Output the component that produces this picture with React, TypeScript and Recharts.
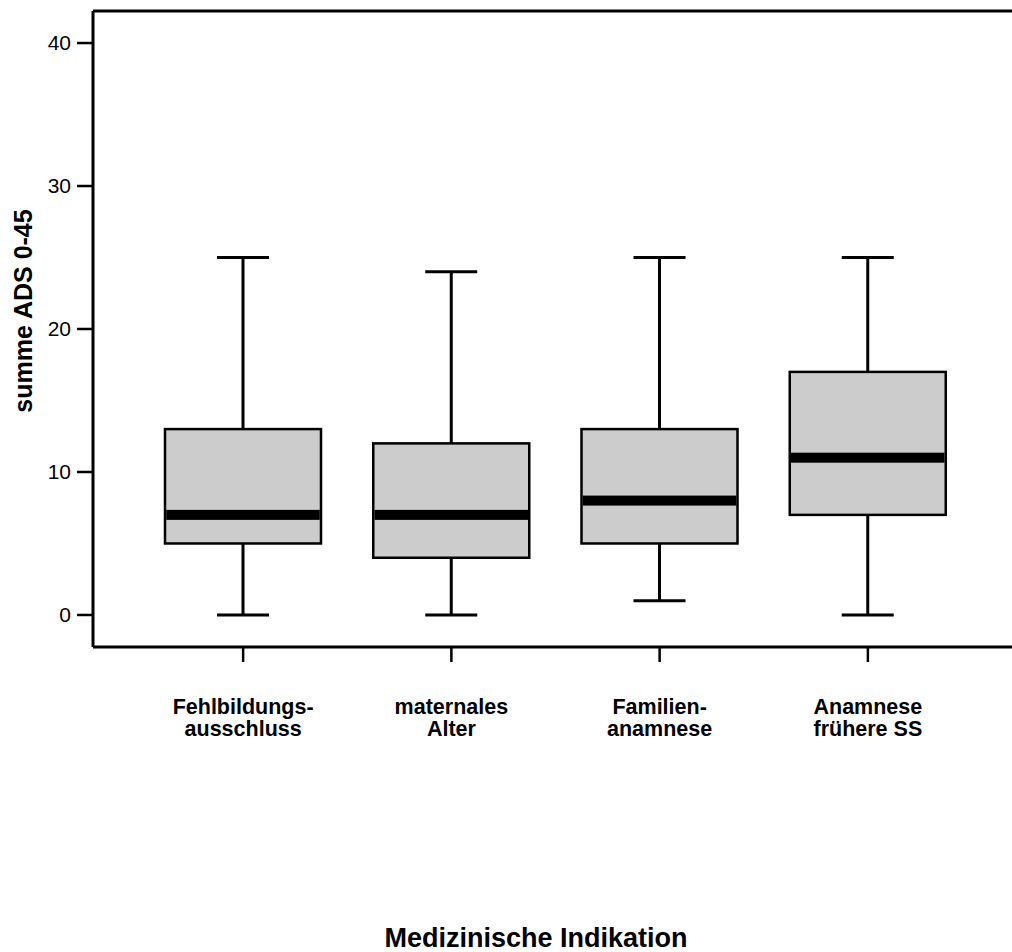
import React from 'react';
import { ComposedChart, Bar, XAxis, YAxis, ReferenceLine } from 'recharts';

const categories = ['Fehlbildungsausschluss', 'maternales Alter', 'Familienanamnese', 'Anamnese frühere SS'];
const tickLines = [
  ['Fehlbildungs-', 'ausschluss'],
  ['maternales', 'Alter'],
  ['Familien-', 'anamnese'],
  ['Anamnese', 'frühere SS'],
];
const minValues = [0, 0, 1, 0];
const q1Values = [5, 4, 5, 7];
const medianValues = [7, 7, 8, 11];
const q3Values = [13, 12, 13, 17];
const maxValues = [25, 24, 25, 25];
const yTicks = [0, 10, 20, 30, 40];
const yDomain = [-2.24, 42.24];

const data = categories.map((name, i) => ({
  name,
  idx: i,
  min: minValues[i],
  q1: q1Values[i],
  median: medianValues[i],
  q3: q3Values[i],
  max: maxValues[i],
}));

const FONT = '"Liberation Sans", Arial, Helvetica, sans-serif';

const BoxShape = (props: any) => {
  const { x, y, width, height, payload } = props;
  if (!payload || !height) return null;
  const unit = height / payload.max;
  const base = y + height;
  const yv = (v: number) => base - v * unit;
  const cx = x + width / 2;
  const capW = width / 3;
  return (
    <g>
      <line x1={cx} x2={cx} y1={yv(payload.max)} y2={yv(payload.q3)} stroke="#000" strokeWidth={3} />
      <line x1={cx} x2={cx} y1={yv(payload.q1)} y2={yv(payload.min)} stroke="#000" strokeWidth={3} />
      <line x1={cx - capW / 2} x2={cx + capW / 2} y1={yv(payload.max)} y2={yv(payload.max)} stroke="#000" strokeWidth={3} />
      <line x1={cx - capW / 2} x2={cx + capW / 2} y1={yv(payload.min)} y2={yv(payload.min)} stroke="#000" strokeWidth={3} />
      <rect x={x} y={yv(payload.q3)} width={width} height={yv(payload.q1) - yv(payload.q3)} fill="#cccccc" stroke="#000" strokeWidth={2.5} />
      <rect x={x + 1.25} y={yv(payload.median) - 5} width={width - 2.5} height={10} fill="#000" />
    </g>
  );
};

const XTick = (props: any) => {
  const { x, y, payload, index } = props;
  const lines = tickLines[payload.index ?? index] || [payload.value];
  return (
    <g>
      {lines.map((l: string, k: number) => (
        <text key={k} x={x} y={y + 50 + k * 22} textAnchor="middle" fontFamily={FONT} fontWeight="bold" fontSize={21.5} fill="#000">
          {l}
        </text>
      ))}
    </g>
  );
};

export default function App() {
  return (
    <div style={{ position: 'absolute', left: 0, top: 0, width: 1012, height: 952, background: '#fff', overflow: 'hidden' }}>
      <ComposedChart width={1012} height={952} data={data} margin={{ top: 11, right: 0, bottom: 0, left: 0 }}>
        <XAxis
          dataKey="name"
          type="category"
          padding={{ left: 46, right: 40 }}
          height={305}
          axisLine={{ stroke: '#000', strokeWidth: 3 }}
          tickLine={{ stroke: '#000', strokeWidth: 2.5 }}
          tickSize={15}
          tick={<XTick />}
          interval={0}
          label={{
            content: () => (
              <text x={536} y={947} textAnchor="middle" fontFamily={FONT} fontWeight="bold" fontSize={27} fill="#000">
                Medizinische Indikation
              </text>
            ),
          }}
        />
        <YAxis
          type="number"
          domain={yDomain}
          ticks={yTicks}
          allowDataOverflow
          width={93}
          axisLine={{ stroke: '#000', strokeWidth: 3 }}
          tickLine={{ stroke: '#000', strokeWidth: 2.5 }}
          tickSize={16}
          tickMargin={6}
          tick={{ fill: '#000', fontSize: 21, fontFamily: FONT }}
          label={{
            content: () => (
              <text x={32} y={311} transform="rotate(-90 32 311)" textAnchor="middle" fontFamily={FONT} fontWeight="bold" fontSize={25} fill="#000">
                summe ADS 0-45
              </text>
            ),
          }}
        />
        <ReferenceLine y={yDomain[1]} stroke="#000" strokeWidth={3} />
        <Bar dataKey="max" barSize={156} shape={<BoxShape />} isAnimationActive={false} />
      </ComposedChart>
    </div>
  );
}
